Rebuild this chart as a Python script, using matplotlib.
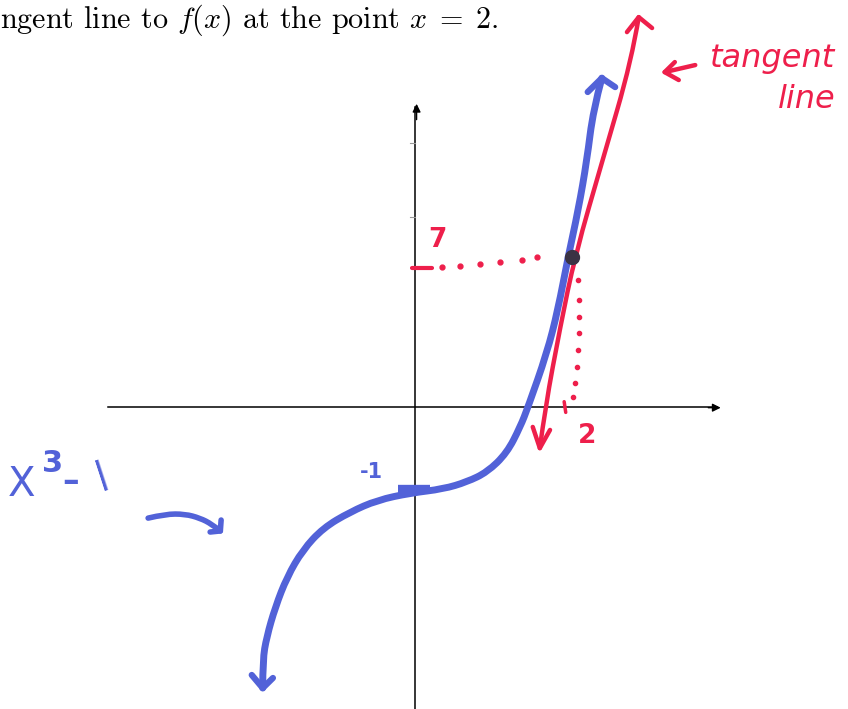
import numpy as np
import matplotlib.pyplot as plt
from matplotlib.path import Path
from matplotlib.patches import PathPatch

# sketch of f(x) = x^3 - 1 with its tangent line at x = 2
# (hand-drawn, so the two axes use different units)

# blue curve, traced from the lower-left arrow tip up to the top arrow tip
curve_x = [-1.94, -1.94, -1.89, -1.78, -1.63, -1.43, -1.17, -0.83, -0.48,
           -0.06, 0.36, 0.66, 0.92, 1.17, 1.34, 1.44, 1.68, 1.82, 1.95,
           2.08, 2.19, 2.27, 2.38]
curve_y = [-13.13, -11.82, -10.75, -9.35, -7.94, -6.68, -5.65, -4.91, -4.35,
           -4.02, -3.83, -3.50, -3.04, -2.15, -0.93, 0.0, 2.52, 4.53, 7.01,
           9.21, 11.54, 13.88, 15.37]

# red tangent line, bottom arrow tip to top arrow tip
tan_x = [1.59, 1.66, 1.85, 2.04, 2.39, 2.76, 2.85]
tan_y = [-1.92, 0.0, 3.74, 7.10, 11.54, 16.21, 18.22]

# point of tangency
px0, py0 = 2, 7
y_intercept = -1

# dotted guide lines from the point to the axes
hdot_x = [0.34, 0.57, 0.83, 1.08, 1.36, 1.55]
hdot_y = [6.54, 6.59, 6.68, 6.78, 6.87, 7.01]
vdot_x = [2.08, 2.09, 2.09, 2.09, 2.08, 2.06, 2.04, 2.01]
vdot_y = [5.93, 5.00, 4.21, 3.46, 2.66, 1.87, 1.12, 0.47]

# curved pointer from the "x^3-1" label to the curve
ptr_x = [-3.40, -3.18, -2.93, -2.74, -2.59, -2.48]
ptr_y = [-5.19, -5.00, -5.00, -5.19, -5.47, -5.79]

BLUE = '#5262d8'
RED = '#ee1f4b'

plt.rcParams['mathtext.fontset'] = 'cm'

fig = plt.figure(figsize=(8.48, 7.09), dpi=100)
ax = fig.add_axes([0, 0, 1, 1])
ax.set_xlim(-5.287, 5.516)
ax.set_ylim(-14.11, 19.02)
ax.axis('off')


def stroke(xs, ys, color, lw, z=2):
    """Smooth marker stroke through the traced points (quadratic B-spline)."""
    pts = np.column_stack([xs, ys])
    verts = [pts[0]]
    codes = [Path.MOVETO]
    for i in range(1, len(pts) - 1):
        mid = (pts[i] + pts[i + 1]) / 2 if i < len(pts) - 2 else pts[i + 1]
        verts += [pts[i], mid]
        codes += [Path.CURVE3, Path.CURVE3]
    if len(pts) == 2:
        verts.append(pts[1])
        codes.append(Path.LINETO)
    patch = PathPatch(Path(verts, codes), facecolor='none', edgecolor=color,
                      lw=lw, capstyle='round', joinstyle='round', zorder=z)
    ax.add_patch(patch)


def open_head(tip, arm1, arm2, color, lw):
    ax.plot([arm1[0], tip[0], arm2[0]], [arm1[1], tip[1], arm2[1]],
            color=color, lw=lw, solid_capstyle='round',
            solid_joinstyle='round', zorder=3)


# axes of the sketch
ax.plot([-3.91, 3.85], [0, 0], color='black', lw=1.1, zorder=1)
ax.annotate('', xy=(3.93, -0.03), xytext=(3.70, -0.03),
            arrowprops=dict(arrowstyle='-|>', color='black', lw=1.0,
                            mutation_scale=12))
ax.plot([0, 0], [-14.2, 14.0], color='black', lw=1.1, zorder=1)
ax.annotate('', xy=(0.02, 14.3), xytext=(0.02, 13.3),
            arrowprops=dict(arrowstyle='-|>', color='black', lw=1.0,
                            mutation_scale=12))
for ty in [12.34, 8.88]:
    ax.plot([-0.06, 0], [ty, ty], color='#999999', lw=0.8)

# x^3 - 1
stroke(curve_x, curve_y, BLUE, 5)
open_head((curve_x[-1], curve_y[-1]), (2.20, 14.72), (2.55, 14.95), BLUE, 4.5)
open_head((curve_x[0], curve_y[0]), (-2.08, -12.52), (-1.81, -12.66), BLUE, 4.5)
ax.plot([-0.22, 0.19], [y_intercept * 3.85, y_intercept * 3.85], color=BLUE,
        lw=6, solid_capstyle='butt', zorder=2)

# tangent line
stroke(tan_x, tan_y, RED, 3.2, z=3)
open_head((tan_x[0], tan_y[0]), (1.50, -0.93), (1.72, -1.07), RED, 3.2)
open_head((tan_x[-1], tan_y[-1]), (2.70, 17.52), (3.02, 17.71), RED, 3.2)

# guides to the point (2, 7)
ax.plot([-0.04, 0.22], [6.50, 6.50], color=RED, lw=3, solid_capstyle='round')
ax.plot(hdot_x, hdot_y, ls='none', marker='o', ms=3.5, color=RED)
ax.plot(vdot_x, vdot_y, ls='none', marker='o', ms=3, color=RED)
ax.plot([1.90, 1.92], [0.25, -0.25], color=RED, lw=2.5,
        solid_capstyle='round')
ax.plot(px0, py0, marker='o', ms=10, color='#3a3344', zorder=4)

# labels
ax.text(0.28, 7.80, '7', color=RED, fontsize=19, fontweight='bold',
        ha='center', va='center')
ax.text(2.19, -1.35, '2', color=RED, fontsize=19, fontweight='bold',
        ha='center', va='center')
ax.text(-0.55, -3.04, '-1', color=BLUE, fontsize=15, fontweight='bold',
        ha='center', va='center')

# hand-lettered "x^3 - 1", one piece at a time
ax.text(-5.01, -3.64, 'X', color=BLUE, fontsize=29, ha='center', va='center')
ax.text(-4.62, -2.62, '3', color=BLUE, fontsize=22, fontweight='bold',
        ha='center', va='center')
ax.text(-4.39, -3.50, '\u2013', color=BLUE, fontsize=24, fontweight='bold',
        ha='center', va='center')
ax.text(-3.99, -3.13, '|', color=BLUE, fontsize=23, fontweight='bold',
        rotation=18, ha='center', va='center')

stroke(ptr_x, ptr_y, BLUE, 4)
open_head((ptr_x[-1], ptr_y[-1]), (-2.61, -5.84), (-2.47, -5.28), BLUE, 4)

# "tangent line" note with its arrow
ax.plot([3.57, 3.18], [15.98, 15.65], color=RED, lw=3.2,
        solid_capstyle='round')
open_head((3.18, 15.65), (3.31, 16.12), (3.36, 15.28), RED, 3.2)
ax.text(3.76, 16.3, 'tangent', color=RED, fontsize=23, fontstyle='italic',
        ha='left', va='center')
ax.text(4.62, 14.35, 'line', color=RED, fontsize=23, fontstyle='italic',
        ha='left', va='center')

# line of text above the sketch
fig.text(0.0, 1 - 28 / 709,
         r'ngent line to $f(x)$ at the point $x\;=\;2$.',
         family='cmr10', fontsize=21.7, va='baseline', ha='left')

fig.savefig('out.png', dpi=100)
